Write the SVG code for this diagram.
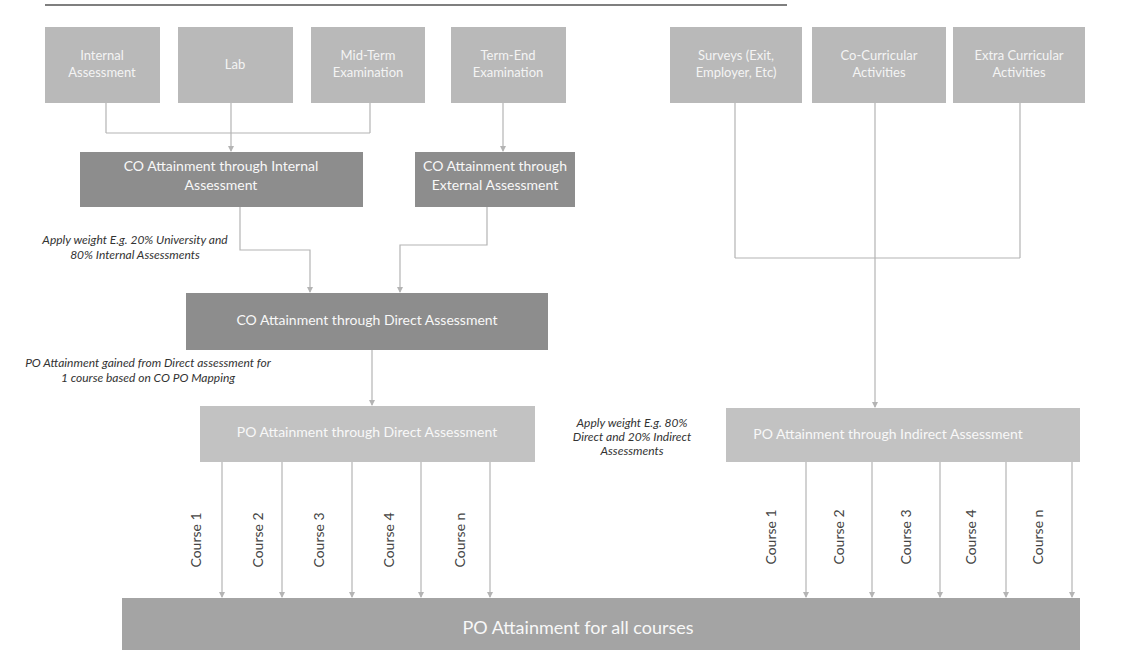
<svg xmlns="http://www.w3.org/2000/svg" width="1127" height="650" viewBox="0 0 1127 650">
<defs>
<style>
.top{fill:#b9b9b9}
.dark{fill:#8d8d8d}
.light{fill:#c2c2c2}
.bottom{fill:#a4a4a4}
.t{font-family:Lato,"Open Sans","Liberation Sans",sans-serif;fill:#f4f4f4;text-anchor:middle;font-size:13px}
.tb{font-family:Lato,"Open Sans","Liberation Sans",sans-serif;fill:#f8f8f8;text-anchor:middle;font-size:14px}
.note{font-family:Lato,"Open Sans","Liberation Sans",sans-serif;font-style:italic;fill:#333;font-size:12px;text-anchor:middle}
.course{font-family:Lato,"Open Sans","Liberation Sans",sans-serif;fill:#444;font-size:14px;text-anchor:middle}
.ln{stroke:#b4b4b4;stroke-width:1.2;fill:none}
</style>
<marker id="ah" markerWidth="6" markerHeight="6" refX="5" refY="3" orient="auto" markerUnits="userSpaceOnUse">
<path d="M0,0 L6,3 L0,6 z" fill="#b4b4b4"/>
</marker>
</defs>
<rect width="1127" height="650" fill="#ffffff"/>
<line x1="45" y1="5" x2="787" y2="5" stroke="#555" stroke-width="1.5"/>

<g id="n-internal"><rect class="top" x="45" y="27" width="115" height="76"/><text class="t" x="102" y="60">Internal</text><text class="t" x="102" y="77">Assessment</text></g>
<g id="n-lab"><rect class="top" x="178" y="27" width="115" height="76"/><text class="t" x="235" y="69">Lab</text></g>
<g id="n-mid"><rect class="top" x="311" y="27" width="114" height="76"/><text class="t" x="368" y="60">Mid-Term</text><text class="t" x="368" y="77">Examination</text></g>
<g id="n-term"><rect class="top" x="451" y="27" width="115" height="76"/><text class="t" x="508" y="60">Term-End</text><text class="t" x="508" y="77">Examination</text></g>
<g id="n-surveys"><rect class="top" x="670" y="27" width="132" height="76"/><text class="t" x="736" y="60">Surveys (Exit,</text><text class="t" x="736" y="77">Employer, Etc)</text></g>
<g id="n-cocurr"><rect class="top" x="812" y="27" width="134" height="76"/><text class="t" x="879" y="60">Co-Curricular</text><text class="t" x="879" y="77">Activities</text></g>
<g id="n-extra"><rect class="top" x="953" y="27" width="132" height="76"/><text class="t" x="1019" y="60">Extra Curricular</text><text class="t" x="1019" y="77">Activities</text></g>

<g id="n-co-int"><rect class="dark" x="80" y="152" width="283" height="55"/><text class="tb" x="221" y="171">CO Attainment through Internal</text><text class="tb" x="221" y="190">Assessment</text></g>
<g id="n-co-ext"><rect class="dark" x="415" y="152" width="160" height="55"/><text class="tb" x="495" y="171">CO Attainment through</text><text class="tb" x="495" y="190">External Assessment</text></g>
<g id="n-co-direct"><rect class="dark" x="186" y="293" width="362" height="57"/><text class="tb" x="367" y="325">CO Attainment through Direct Assessment</text></g>
<g id="n-po-direct"><rect class="light" x="200" y="406" width="335" height="56"/><text class="tb" x="367" y="437">PO Attainment through Direct Assessment</text></g>
<g id="n-po-indirect"><rect class="light" x="726" y="408" width="354" height="54"/><text class="tb" x="888" y="439">PO Attainment through Indirect Assessment</text></g>
<g id="n-po-all"><rect class="bottom" x="122" y="598" width="958" height="52"/><text class="tb" x="578" y="634" style="font-size:18px">PO Attainment for all courses</text></g>

<g id="connectors">
<path class="ln" d="M106,103 V133 M231,103 V133 M370,103 V133 M106,133 H370"/>
<path class="ln" d="M231,133 V151" marker-end="url(#ah)"/>
<path class="ln" d="M503,103 V151" marker-end="url(#ah)"/>
<path class="ln" d="M240,207 V250 H310 V292" marker-end="url(#ah)"/>
<path class="ln" d="M487,207 V245 H400 V292" marker-end="url(#ah)"/>
<path class="ln" d="M372,350 V405" marker-end="url(#ah)"/>
<path class="ln" d="M735,103 V258 M875,103 V258 M1020,103 V258 M735,258 H1020"/>
<path class="ln" d="M875,258 V407" marker-end="url(#ah)"/>
<path class="ln" d="M222,462 V597" marker-end="url(#ah)"/>
<path class="ln" d="M282,462 V597" marker-end="url(#ah)"/>
<path class="ln" d="M352,462 V597" marker-end="url(#ah)"/>
<path class="ln" d="M421,462 V597" marker-end="url(#ah)"/>
<path class="ln" d="M490,462 V597" marker-end="url(#ah)"/>
<path class="ln" d="M806,462 V597" marker-end="url(#ah)"/>
<path class="ln" d="M872,462 V597" marker-end="url(#ah)"/>
<path class="ln" d="M940,462 V597" marker-end="url(#ah)"/>
<path class="ln" d="M1006,462 V597" marker-end="url(#ah)"/>
<path class="ln" d="M1072,462 V597" marker-end="url(#ah)"/>
</g>

<g id="labels">
<text class="note" x="135" y="244">Apply weight E.g. 20% University and</text>
<text class="note" x="135" y="259">80% Internal Assessments</text>
<text class="note" x="148" y="367">PO Attainment gained from Direct assessment for</text>
<text class="note" x="148" y="382">1 course based on CO PO Mapping</text>
<text class="note" x="632" y="427">Apply weight E.g. 80%</text>
<text class="note" x="632" y="441">Direct and 20% Indirect</text>
<text class="note" x="632" y="455">Assessments</text>
<g class="course">
<text transform="translate(201,540) rotate(-90)">Course 1</text>
<text transform="translate(263,540) rotate(-90)">Course 2</text>
<text transform="translate(324,540) rotate(-90)">Course 3</text>
<text transform="translate(394,540) rotate(-90)">Course 4</text>
<text transform="translate(465,540) rotate(-90)">Course n</text>
<text transform="translate(776,537) rotate(-90)">Course 1</text>
<text transform="translate(844,537) rotate(-90)">Course 2</text>
<text transform="translate(911,537) rotate(-90)">Course 3</text>
<text transform="translate(976,537) rotate(-90)">Course 4</text>
<text transform="translate(1043,537) rotate(-90)">Course n</text>
</g>
</g>
</svg>
